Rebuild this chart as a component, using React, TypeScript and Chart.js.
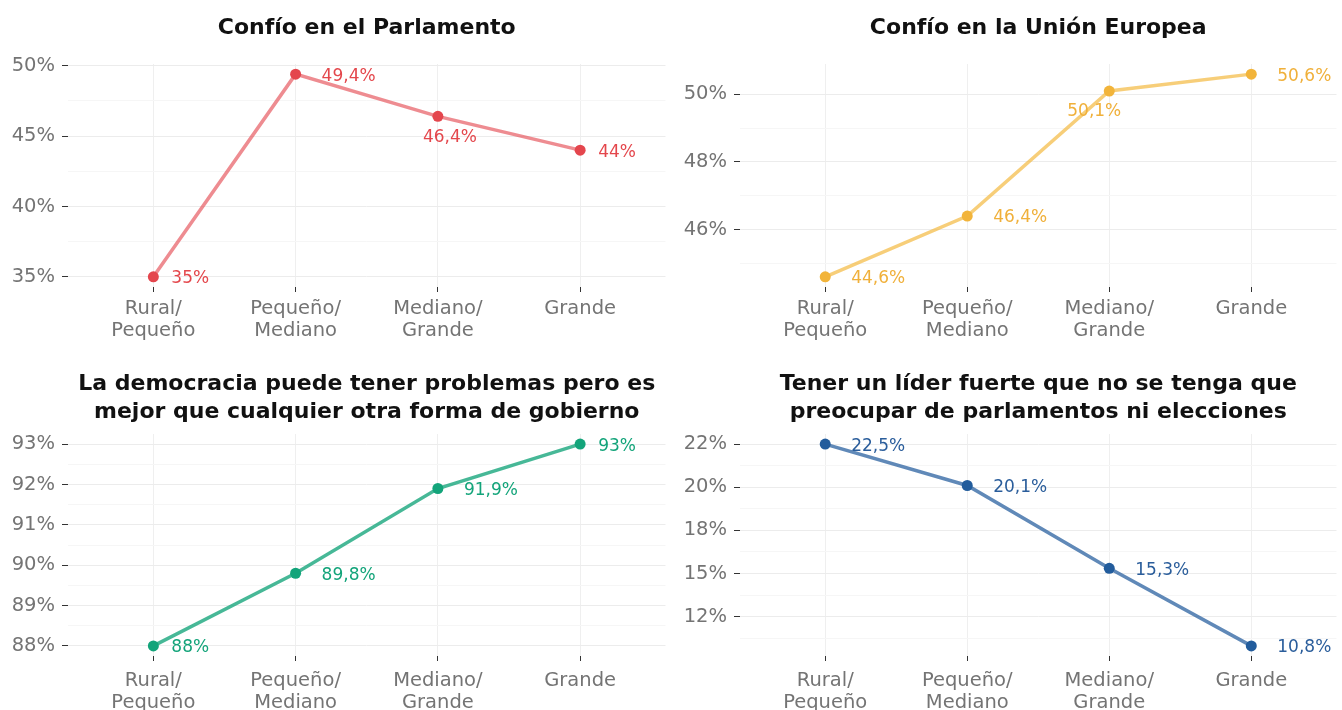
import React, { useEffect, useRef } from "react";
import { Chart, registerables } from "chart.js";

Chart.register(...registerables);

// ---------- data ----------
const CATEGORIES: string[][] = [["Rural/", "Pequeño"], ["Pequeño/", "Mediano"], ["Mediano/", "Grande"], ["Grande"]];

const PARLAMENTO = [35, 49.4, 46.4, 44];
const UNION_EUROPEA = [44.6, 46.4, 50.1, 50.6];
const DEMOCRACIA = [88, 89.8, 91.9, 93];
const LIDER_FUERTE = [22.5, 20.1, 15.3, 10.8];

const PARLAMENTO_TICKS = [35, 40, 45, 50];
const PARLAMENTO_TICK_LABELS = ["35%", "40%", "45%", "50%"];
const UE_TICKS = [46, 48, 50];
const UE_TICK_LABELS = ["46%", "48%", "50%"];
const DEMOCRACIA_TICKS = [88, 89, 90, 91, 92, 93];
const DEMOCRACIA_TICK_LABELS = ["88%", "89%", "90%", "91%", "92%", "93%"];
const LIDER_TICKS = [12.5, 15, 17.5, 20, 22.5];
const LIDER_TICK_LABELS = ["12%", "15%", "18%", "20%", "22%"];

const TITLE_PARLAMENTO = "Confío en el Parlamento";
const TITLE_UE = "Confío en la Unión Europea";
const TITLE_DEMOCRACIA = ["La democracia puede tener problemas pero es", "mejor que cualquier otra forma de gobierno"];
const TITLE_LIDER = ["Tener un líder fuerte que no se tenga que", "preocupar de parlamentos ni elecciones"];

const FONT = "'DejaVu Sans', sans-serif";

type PanelCfg = {
  title: string | string[];
  values: number[];
  ticks: number[];
  tickLabels: string[];
  lineColor: string;
  pointColor: string;
  labelColor: string;
  placement: string[];
  belowDx: number;
  row: number;
  col: number;
};

const PANELS: PanelCfg[] = [
  {
    title: TITLE_PARLAMENTO, values: PARLAMENTO, ticks: PARLAMENTO_TICKS, tickLabels: PARLAMENTO_TICK_LABELS,
    lineColor: "rgba(228,70,77,0.62)", pointColor: "#E4464D", labelColor: "#E4474C",
    placement: ["r", "r", "b", "r"], belowDx: 12, row: 0, col: 0,
  },
  {
    title: TITLE_UE, values: UNION_EUROPEA, ticks: UE_TICKS, tickLabels: UE_TICK_LABELS,
    lineColor: "rgba(243,183,58,0.68)", pointColor: "#F2B43A", labelColor: "#F0B03A",
    placement: ["r", "r", "b", "r"], belowDx: -15, row: 0, col: 1,
  },
  {
    title: TITLE_DEMOCRACIA, values: DEMOCRACIA, ticks: DEMOCRACIA_TICKS, tickLabels: DEMOCRACIA_TICK_LABELS,
    lineColor: "rgba(19,164,122,0.78)", pointColor: "#13A47A", labelColor: "#13A47A",
    placement: ["r", "r", "r", "r"], belowDx: 0, row: 1, col: 0,
  },
  {
    title: TITLE_LIDER, values: LIDER_FUERTE, ticks: LIDER_TICKS, tickLabels: LIDER_TICK_LABELS,
    lineColor: "rgba(34,92,156,0.72)", pointColor: "#225C9C", labelColor: "#2A5D9B",
    placement: ["r", "r", "r", "r"], belowDx: 0, row: 1, col: 1,
  },
];

const W = 671;
const H = 355;

function fmt(v: number) {
  return String(v).replace(".", ",") + "%";
}

function Panel({ cfg }: { cfg: PanelCfg }) {
  const ref = useRef<HTMLCanvasElement | null>(null);
  useEffect(() => {
    if (!ref.current) return;
    const vmin = Math.min(...cfg.values);
    const vmax = Math.max(...cfg.values);
    const exp = (vmax - vmin) * 0.05;
    const ymin = vmin - exp;
    const ymax = vmax + exp;
    const step = cfg.ticks[1] - cfg.ticks[0];
    const majors = cfg.ticks.filter((t) => t >= ymin - 1e-9 && t <= ymax + 1e-9);
    const minors: number[] = [];
    const first = cfg.ticks[0] - step / 2;
    for (let m = first; m <= ymax; m += step) {
      if (m >= ymin && m <= ymax) minors.push(m);
    }
    const isMajor = (v: number) => majors.some((t) => Math.abs(t - v) < 1e-6);
    const top = cfg.row === 0;
    const multi = Array.isArray(cfg.title);

    const labelPlugin = {
      id: "pointLabels",
      afterDatasetsDraw(chart: any) {
        const ctx = chart.ctx;
        const meta = chart.getDatasetMeta(0);
        ctx.save();
        ctx.font = `17px ${FONT}`;
        ctx.fillStyle = cfg.labelColor;
        ctx.textBaseline = "middle";
        meta.data.forEach((pt: any, i: number) => {
          const text = fmt(cfg.values[i]);
          if (cfg.placement[i] === "b") {
            ctx.textAlign = "center";
            ctx.fillText(text, pt.x + cfg.belowDx, pt.y + 21);
          } else {
            ctx.textAlign = "left";
            const dx = text.length <= 3 ? 18 : 26;
            ctx.fillText(text, pt.x + dx, pt.y + 2);
          }
        });
        ctx.restore();
      },
    };

    const chart = new Chart(ref.current, {
      type: "line",
      data: {
        datasets: [
          {
            data: cfg.values.map((v, i) => ({ x: i, y: v })),
            borderColor: cfg.lineColor,
            borderWidth: 3.5,
            pointBackgroundColor: cfg.pointColor,
            pointBorderColor: cfg.pointColor,
            pointRadius: 5.5,
            pointBorderWidth: 0,
            tension: 0,
          },
        ],
      },
      options: {
        responsive: false,
        animation: false,
        layout: {
          padding: { left: cfg.col === 0 ? 8 : 9, right: cfg.col === 0 ? 1 : 0, top: 0, bottom: 0 },
        },
        plugins: {
          legend: { display: false },
          tooltip: { enabled: false },
          title: {
            display: true,
            text: cfg.title as any,
            fullSize: false,
            color: "#111",
            font: { family: FONT, size: 22, weight: "bold", lineHeight: multi ? 28 / 22 : 1.2 },
            padding: top ? { top: 15, bottom: 22.6 } : { top: 15, bottom: 8 },
          },
        },
        scales: {
          x: {
            type: "linear",
            min: -0.6,
            max: 3.6,
            afterBuildTicks: (scale: any) => {
              scale.ticks = CATEGORIES.map((_, i) => ({ value: i }));
            },
            afterFit: (scale: any) => {
              scale.height = top ? 68 : 54;
            },
            border: { display: false },
            grid: { color: "#efefef", tickColor: "#333", tickLength: 5, lineWidth: 1 },
            ticks: {
              autoSkip: false,
              maxRotation: 0,
              padding: top ? 6 : 9,
              color: "#747474",
              font: { family: FONT, size: 19.5, lineHeight: 22 / 19.5 },
              callback: (v: any) => CATEGORIES[Math.round(Number(v))] as any,
            },
          },
          y: {
            type: "linear",
            min: ymin,
            max: ymax,
            afterBuildTicks: (scale: any) => {
              scale.ticks = [...majors, ...minors].sort((a, b) => a - b).map((v) => ({ value: v }));
            },
            afterFit: (scale: any) => {
              scale.width = 60;
            },
            border: { display: false },
            grid: {
              color: (c: any) => (isMajor(c.tick?.value) ? "#ececec" : "#f6f6f6"),
              tickColor: (c: any) => (isMajor(c.tick?.value) ? "#333" : "rgba(0,0,0,0)"),
              tickLength: 6,
              lineWidth: 1,
            },
            ticks: {
              autoSkip: false,
              padding: 7,
              color: "#747474",
              font: { family: FONT, size: 19.5 },
              callback: (v: any) => {
                const idx = cfg.ticks.findIndex((t) => Math.abs(t - Number(v)) < 1e-6);
                return idx >= 0 ? cfg.tickLabels[idx] : "";
              },
            },
          },
        },
      } as any,
      plugins: [labelPlugin],
    });
    return () => chart.destroy();
  }, [cfg]);
  return (
    <canvas
      ref={ref}
      width={W}
      height={H}
      style={{ position: "absolute", left: cfg.col * W, top: cfg.row * H, width: W, height: H }}
    />
  );
}

export default function App() {
  return (
    <div style={{ position: "fixed", left: 0, top: 0, width: 1342, height: 710, background: "#fff", overflow: "hidden" }}>
      {PANELS.map((p, i) => (
        <Panel key={i} cfg={p} />
      ))}
    </div>
  );
}
